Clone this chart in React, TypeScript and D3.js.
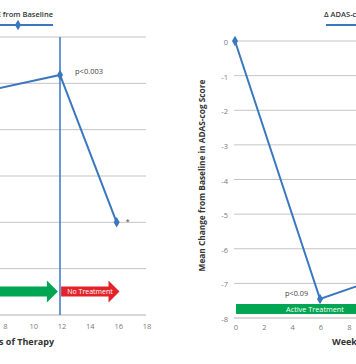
import React from "react";
import * as d3 from "d3";

const leftWeeks = [0, 6, 12, 16];
const leftValues = [0, 0.78, 1.18, -2.0];
const rightWeeks = [0, 6, 12];
const rightValues = [0, -7.45, -6.6];
const xTicks = [0, 2, 4, 6, 8, 10, 12, 14, 16, 18];
const leftYTicks = [2, 1, 0, -1, -2, -3, -4];
const rightYTicks = [0, -1, -2, -3, -4, -5, -6, -7, -8];
const legendLabel = "Δ ADAS-cog ± SE from Baseline";
const xTitle = "Weeks of Therapy";
const rightYTitle = "Mean Change from Baseline in ADAS-cog Score";

const BLUE = "#3a77bf";
const GRID = "#c4c4c4";
const AXIS = "#b0b0b0";
const GREEN = "#00a651";
const RED = "#e3222a";
const FONT = "'Open Sans', sans-serif";

export default function App() {
  const xL = d3.scaleLinear().domain([0, 18]).range([-110, 145]);
  const xR = d3.scaleLinear().domain([0, 18]).range([235, 490]);
  const yL = d3.scaleLinear().domain([-4, 2]).range([315, 37]);
  const yR = d3.scaleLinear().domain([-8, 0]).range([318, 41]);

  const lineL = d3.line<number>().x((_, i) => xL(leftWeeks[i])).y((d) => yL(d));
  const lineR = d3.line<number>().x((_, i) => xR(rightWeeks[i])).y((d) => yR(d));
  const diamond = d3.symbol().type(d3.symbolDiamond).size(32)() as string;

  const arrow = (x0: number, x1: number, cy: number) => {
    const head = 11;
    const bh = 5;
    const hh = 11;
    return `M${x0},${cy - bh}L${x1 - head},${cy - bh}L${x1 - head},${cy - hh}L${x1},${cy}L${x1 - head},${cy + hh}L${x1 - head},${cy + bh}L${x0},${cy + bh}Z`;
  };

  return (
    <svg
      width={356}
      height={364}
      style={{ position: "absolute", left: 0, top: 0, background: "#fff" }}
      fontFamily={FONT}
    >
      {/* LEFT PANEL */}
      <g>
        {leftYTicks.map((t) => (
          <line
            key={"lg" + t}
            x1={xL(0)}
            x2={xL(18) + 1}
            y1={yL(t)}
            y2={yL(t)}
            stroke={t === -4 ? AXIS : GRID}
            strokeWidth={1}
          />
        ))}
        {xTicks.map((t) => (
          <text
            key={"lx" + t}
            x={xL(t) + 2}
            y={329}
            textAnchor="middle"
            fontSize={7.5}
            fill="#7a7a7a"
          >
            {t}
          </text>
        ))}
        <text x={54} y={345} textAnchor="end" fontSize={9} fontWeight={700} fill="#333">
          {xTitle}
        </text>
        <path d={arrow(xL(0), xL(11.85), 291.5)} fill={GREEN} />
        <path d={arrow(xL(12.08), xL(16.2), 291.5)} fill={RED} />
        <text x={90} y={294} textAnchor="middle" fontSize={7} fill="#fff">
          No Treatment
        </text>
        <line x1={xL(12)} x2={xL(12)} y1={yL(2)} y2={yL(-4)} stroke={BLUE} strokeWidth={1.5} />
        <path d={lineL(leftValues) as string} fill="none" stroke={BLUE} strokeWidth={2} />
        {leftValues.map((v, i) => (
          <path key={"lm" + i} d={diamond} transform={`translate(${xL(leftWeeks[i])},${yL(v)})`} fill={BLUE} />
        ))}
        <text x={xL(12) + 15} y={yL(1.18) - 0.5} fontSize={7.5} fill="#444">
          p&lt;0.003
        </text>
        <text x={xL(16) + 9} y={yL(-2) + 2} fontSize={7} fill="#444">
          *
        </text>
        {/* legend */}
        <text x={53} y={16.5} textAnchor="end" fontSize={7.5} fontWeight={600} fill="#333">
          {legendLabel}
        </text>
        <line x1={-17} x2={53} y1={25} y2={25} stroke={BLUE} strokeWidth={2} />
        <path d={diamond} transform="translate(18,25)" fill={BLUE} />
      </g>

      {/* RIGHT PANEL */}
      <g>
        {rightYTicks.map((t) => (
          <g key={"rg" + t}>
            <line
              x1={xR(0) - 1}
              x2={xR(18)}
              y1={yR(t)}
              y2={yR(t)}
              stroke={t === -8 ? AXIS : GRID}
              strokeWidth={1}
            />
            <text x={228} y={yR(t) + 4} textAnchor="end" fontSize={7.5} fill="#7a7a7a">
              {t}
            </text>
          </g>
        ))}
        {xTicks.map((t) => (
          <text
            key={"rx" + t}
            x={xR(t) + 1}
            y={330}
            textAnchor="middle"
            fontSize={7.5}
            fill="#7a7a7a"
          >
            {t}
          </text>
        ))}
        <text x={332} y={345} textAnchor="start" fontSize={9} fontWeight={700} fill="#333">
          {xTitle}
        </text>
        <text
          transform={`translate(205,${(yR(0) + yR(-8)) / 2 - 4}) rotate(-90)`}
          textAnchor="middle"
          fontSize={8.3}
          fontWeight={700}
          fill="#333"
        >
          {rightYTitle}
        </text>
        <rect x={xR(0) + 1} y={304} width={xR(11.8) - xR(0)} height={10} fill={GREEN} />
        <text x={315} y={311.5} textAnchor="middle" fontSize={7.3} fill="#fff">
          Active Treatment
        </text>
        <path d={lineR(rightValues) as string} fill="none" stroke={BLUE} strokeWidth={2} />
        {rightValues.map((v, i) => (
          <path key={"rm" + i} d={diamond} transform={`translate(${xR(rightWeeks[i])},${yR(v)})`} fill={BLUE} />
        ))}
        <text x={285} y={295.5} fontSize={7.3} fill="#444">
          p&lt;0.09
        </text>
        {/* legend */}
        <text x={324} y={16.5} textAnchor="start" fontSize={7.5} fontWeight={600} fill="#333">
          {legendLabel}
        </text>
        <line x1={326} x2={396} y1={25} y2={25} stroke={BLUE} strokeWidth={2} />
        <path d={diamond} transform="translate(361,25)" fill={BLUE} />
      </g>
    </svg>
  );
}
